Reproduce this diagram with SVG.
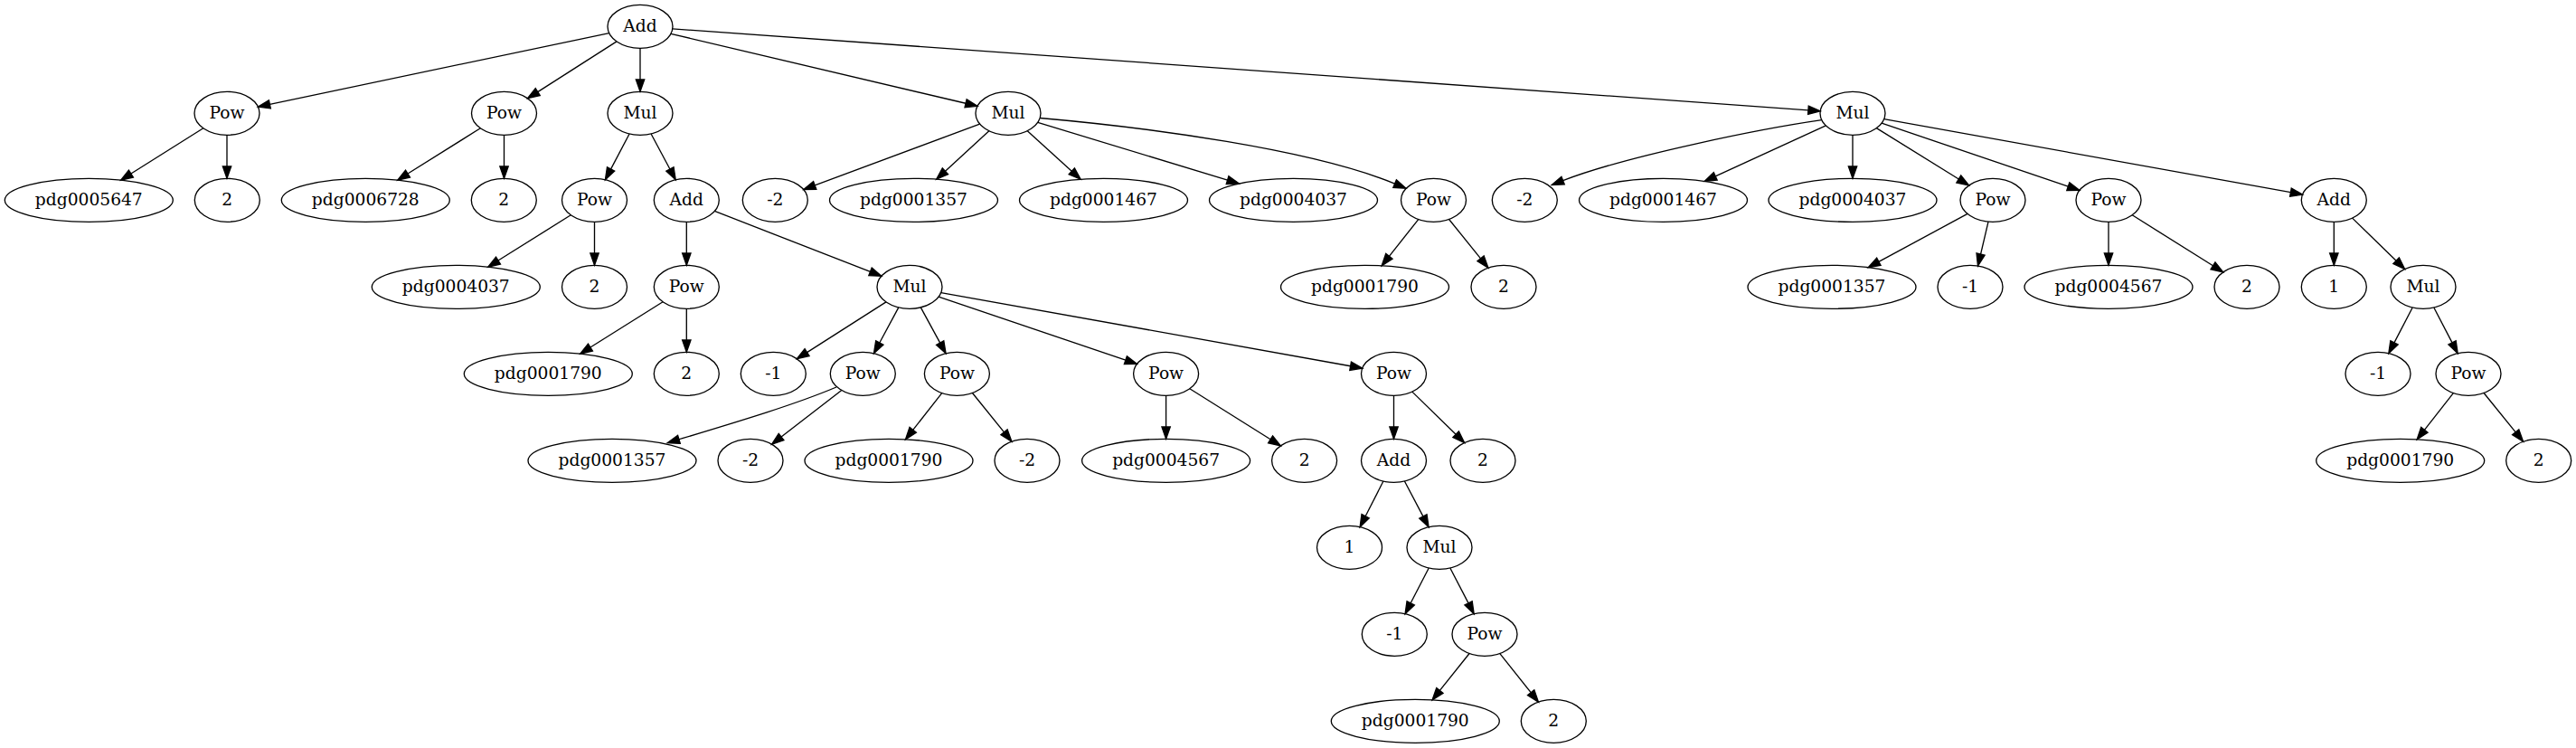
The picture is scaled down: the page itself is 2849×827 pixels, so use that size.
<svg xmlns="http://www.w3.org/2000/svg" width="2849" height="827" viewBox="0 0 2849 827">
<style>
.n ellipse{fill:none;stroke:#000;stroke-width:1.33}
.n text{font-family:"DejaVu Serif","Liberation Serif",serif;font-size:18.67px;text-anchor:middle;fill:#000}
#edges path{fill:none;stroke:#000;stroke-width:1.33;marker-end:url(#ah)}
</style>
<defs>
<marker id="ah" markerUnits="userSpaceOnUse" markerWidth="16" markerHeight="12" refX="0" refY="4.67" orient="auto" overflow="visible">
<path d="M0,0 L13.33,4.67 L0,9.33 Z" fill="#000" stroke="#000" stroke-width="1.33"/>
</marker>
</defs>
<rect width="2849" height="827" fill="#fff"/>
<g id="edges">
<path d="M673.67,36.54 L298.38,115.38"/>
<path d="M681.99,45.92 L594.75,101.57"/>
<path d="M708,53.33 L708,88"/>
<path d="M741.94,37.33 L1068.09,114.27"/>
<path d="M743.79,31.89 L1999.91,121.82"/>
<path d="M224.81,141.8 L144.91,192.04"/>
<path d="M251,149.33 L251,184"/>
<path d="M531.27,141.77 L451.01,192.06"/>
<path d="M557.5,149.33 L557.5,184"/>
<path d="M696.09,147.98 L675.62,186.88"/>
<path d="M720.08,147.94 L740.94,186.96"/>
<path d="M1083.57,137.04 L901.22,204.97"/>
<path d="M1093.86,144.75 L1045.47,189.2"/>
<path d="M1136.28,144.69 L1185.27,189.27"/>
<path d="M1147.75,135.29 L1357.6,199.15"/>
<path d="M1150.2,130.5 C1270,141 1450,165 1542.6,203.1"/>
<path d="M2014.8,132.7 C1950,142 1800,172 1728.6,199.6"/>
<path d="M2019.33,138.92 L1897.26,194.87"/>
<path d="M2049,149.33 L2049,184"/>
<path d="M2075.37,141.67 L2166.3,197.97"/>
<path d="M2081.08,136.21 L2287.3,206.17"/>
<path d="M2083.75,131.6 L2533.43,212.69"/>
<path d="M631.27,237.77 L551.01,288.06"/>
<path d="M657.5,245.33 L657.5,280"/>
<path d="M759.3,245.33 L759.3,280"/>
<path d="M790.39,233.43 L962.49,300.4"/>
<path d="M1568.7,242.56 L1536.39,283.37"/>
<path d="M1602.56,242.46 L1637.57,285.83"/>
<path d="M2176.01,236.42 L2077.87,289.35"/>
<path d="M2199,245.2 L2190.56,281.03"/>
<path d="M2332,245.33 L2332,280"/>
<path d="M2358.22,237.78 L2447.49,293.8"/>
<path d="M2581.3,245.33 L2581.3,280"/>
<path d="M2601.65,241.13 L2650.09,288.24"/>
<path d="M733.08,333.78 L652.96,384.05"/>
<path d="M759.3,341.33 L759.3,376"/>
<path d="M979.97,333.91 L892.57,389.59"/>
<path d="M993.84,339.92 L972.78,379"/>
<path d="M1018.31,339.88 L1039.7,379.08"/>
<path d="M1038.1,328.2 L1244.87,398.19"/>
<path d="M1040.76,323.56 L1493.62,404.75"/>
<path d="M2668.19,340 L2647.97,378.84"/>
<path d="M2691.81,340 L2712.03,378.84"/>
<path d="M925,428 C880,447 820,465 750.95,485.8"/>
<path d="M930.78,431.5 L864.07,483.01"/>
<path d="M1041.7,434.59 L1009.7,475.33"/>
<path d="M1075.48,434.46 L1110.54,477.83"/>
<path d="M1289.6,437.33 L1289.6,472"/>
<path d="M1315.82,429.78 L1405.09,485.8"/>
<path d="M1541.5,437.33 L1541.5,472"/>
<path d="M1561.82,433.14 L1610.13,480.22"/>
<path d="M2713.32,434.59 L2681.37,475.32"/>
<path d="M2747.1,434.46 L2782.21,477.84"/>
<path d="M1529.9,532.05 L1510.16,570.74"/>
<path d="M1553.41,531.98 L1573.88,570.88"/>
<path d="M1580.25,628.02 L1560.18,666.8"/>
<path d="M1603.81,628 L1624.03,666.84"/>
<path d="M1625.08,722.51 L1592.4,763.41"/>
<path d="M1658.86,722.54 L1693.15,765.69"/>
</g>
<g id="n0" class="n"><ellipse cx="708" cy="29.33" rx="36" ry="24"/><text x="708" y="34.63">Add</text></g>
<g id="n1" class="n"><ellipse cx="251" cy="125.33" rx="36" ry="24"/><text x="251" y="130.63">Pow</text></g>
<g id="n2" class="n"><ellipse cx="557.5" cy="125.33" rx="36" ry="24"/><text x="557.5" y="130.63">Pow</text></g>
<g id="n3" class="n"><ellipse cx="708" cy="125.33" rx="36" ry="24"/><text x="708" y="130.63">Mul</text></g>
<g id="n4" class="n"><ellipse cx="1115" cy="125.33" rx="36" ry="24"/><text x="1115" y="130.63">Mul</text></g>
<g id="n5" class="n"><ellipse cx="2049" cy="125.33" rx="36" ry="24"/><text x="2049" y="130.63">Mul</text></g>
<g id="n6" class="n"><ellipse cx="98.3" cy="221.33" rx="93" ry="24"/><text x="98.3" y="226.63">pdg0005647</text></g>
<g id="n7" class="n"><ellipse cx="251.3" cy="221.33" rx="36" ry="24"/><text x="251.3" y="226.63">2</text></g>
<g id="n8" class="n"><ellipse cx="404.3" cy="221.33" rx="93" ry="24"/><text x="404.3" y="226.63">pdg0006728</text></g>
<g id="n9" class="n"><ellipse cx="557.3" cy="221.33" rx="36" ry="24"/><text x="557.3" y="226.63">2</text></g>
<g id="n10" class="n"><ellipse cx="657.5" cy="221.33" rx="36" ry="24"/><text x="657.5" y="226.63">Pow</text></g>
<g id="n11" class="n"><ellipse cx="759.3" cy="221.33" rx="36" ry="24"/><text x="759.3" y="226.63">Add</text></g>
<g id="n12" class="n"><ellipse cx="857.3" cy="221.33" rx="36" ry="24"/><text x="857.3" y="226.63">-2</text></g>
<g id="n13" class="n"><ellipse cx="1010.5" cy="221.33" rx="93" ry="24"/><text x="1010.5" y="226.63">pdg0001357</text></g>
<g id="n14" class="n"><ellipse cx="1220.5" cy="221.33" rx="93" ry="24"/><text x="1220.5" y="226.63">pdg0001467</text></g>
<g id="n15" class="n"><ellipse cx="1430.5" cy="221.33" rx="93" ry="24"/><text x="1430.5" y="226.63">pdg0004037</text></g>
<g id="n16" class="n"><ellipse cx="1585.5" cy="221.33" rx="36" ry="24"/><text x="1585.5" y="226.63">Pow</text></g>
<g id="n17" class="n"><ellipse cx="1686.3" cy="221.33" rx="36" ry="24"/><text x="1686.3" y="226.63">-2</text></g>
<g id="n18" class="n"><ellipse cx="1839.5" cy="221.33" rx="93" ry="24"/><text x="1839.5" y="226.63">pdg0001467</text></g>
<g id="n19" class="n"><ellipse cx="2049" cy="221.33" rx="93" ry="24"/><text x="2049" y="226.63">pdg0004037</text></g>
<g id="n20" class="n"><ellipse cx="2204" cy="221.33" rx="36" ry="24"/><text x="2204" y="226.63">Pow</text></g>
<g id="n21" class="n"><ellipse cx="2332" cy="221.33" rx="36" ry="24"/><text x="2332" y="226.63">Pow</text></g>
<g id="n22" class="n"><ellipse cx="2581.3" cy="221.33" rx="36" ry="24"/><text x="2581.3" y="226.63">Add</text></g>
<g id="n23" class="n"><ellipse cx="504.3" cy="317.33" rx="93" ry="24"/><text x="504.3" y="322.63">pdg0004037</text></g>
<g id="n24" class="n"><ellipse cx="657.5" cy="317.33" rx="36" ry="24"/><text x="657.5" y="322.63">2</text></g>
<g id="n25" class="n"><ellipse cx="759.3" cy="317.33" rx="36" ry="24"/><text x="759.3" y="322.63">Pow</text></g>
<g id="n26" class="n"><ellipse cx="1006" cy="317.33" rx="36" ry="24"/><text x="1006" y="322.63">Mul</text></g>
<g id="n27" class="n"><ellipse cx="1509.5" cy="317.33" rx="93" ry="24"/><text x="1509.5" y="322.63">pdg0001790</text></g>
<g id="n28" class="n"><ellipse cx="1663" cy="317.33" rx="36" ry="24"/><text x="1663" y="322.63">2</text></g>
<g id="n29" class="n"><ellipse cx="2026" cy="317.33" rx="93" ry="24"/><text x="2026" y="322.63">pdg0001357</text></g>
<g id="n30" class="n"><ellipse cx="2179" cy="317.33" rx="36" ry="24"/><text x="2179" y="322.63">-1</text></g>
<g id="n31" class="n"><ellipse cx="2332" cy="317.33" rx="93" ry="24"/><text x="2332" y="322.63">pdg0004567</text></g>
<g id="n32" class="n"><ellipse cx="2485" cy="317.33" rx="36" ry="24"/><text x="2485" y="322.63">2</text></g>
<g id="n33" class="n"><ellipse cx="2581.3" cy="317.33" rx="36" ry="24"/><text x="2581.3" y="322.63">1</text></g>
<g id="n34" class="n"><ellipse cx="2680" cy="317.33" rx="36" ry="24"/><text x="2680" y="322.63">Mul</text></g>
<g id="n35" class="n"><ellipse cx="606.3" cy="413.33" rx="93" ry="24"/><text x="606.3" y="418.63">pdg0001790</text></g>
<g id="n36" class="n"><ellipse cx="759.3" cy="413.33" rx="36" ry="24"/><text x="759.3" y="418.63">2</text></g>
<g id="n37" class="n"><ellipse cx="855.3" cy="413.33" rx="36" ry="24"/><text x="855.3" y="418.63">-1</text></g>
<g id="n38" class="n"><ellipse cx="954.3" cy="413.33" rx="36" ry="24"/><text x="954.3" y="418.63">Pow</text></g>
<g id="n39" class="n"><ellipse cx="1058.4" cy="413.33" rx="36" ry="24"/><text x="1058.4" y="418.63">Pow</text></g>
<g id="n40" class="n"><ellipse cx="1289.6" cy="413.33" rx="36" ry="24"/><text x="1289.6" y="418.63">Pow</text></g>
<g id="n41" class="n"><ellipse cx="1541.5" cy="413.33" rx="36" ry="24"/><text x="1541.5" y="418.63">Pow</text></g>
<g id="n42" class="n"><ellipse cx="2630" cy="413.33" rx="36" ry="24"/><text x="2630" y="418.63">-1</text></g>
<g id="n43" class="n"><ellipse cx="2730" cy="413.33" rx="36" ry="24"/><text x="2730" y="418.63">Pow</text></g>
<g id="n44" class="n"><ellipse cx="677" cy="509.33" rx="93" ry="24"/><text x="677" y="514.63">pdg0001357</text></g>
<g id="n45" class="n"><ellipse cx="830" cy="509.33" rx="36" ry="24"/><text x="830" y="514.63">-2</text></g>
<g id="n46" class="n"><ellipse cx="983" cy="509.33" rx="93" ry="24"/><text x="983" y="514.63">pdg0001790</text></g>
<g id="n47" class="n"><ellipse cx="1136" cy="509.33" rx="36" ry="24"/><text x="1136" y="514.63">-2</text></g>
<g id="n48" class="n"><ellipse cx="1289.6" cy="509.33" rx="93" ry="24"/><text x="1289.6" y="514.63">pdg0004567</text></g>
<g id="n49" class="n"><ellipse cx="1442.6" cy="509.33" rx="36" ry="24"/><text x="1442.6" y="514.63">2</text></g>
<g id="n50" class="n"><ellipse cx="1541.5" cy="509.33" rx="36" ry="24"/><text x="1541.5" y="514.63">Add</text></g>
<g id="n51" class="n"><ellipse cx="1640" cy="509.33" rx="36" ry="24"/><text x="1640" y="514.63">2</text></g>
<g id="n52" class="n"><ellipse cx="2654.7" cy="509.33" rx="93" ry="24"/><text x="2654.7" y="514.63">pdg0001790</text></g>
<g id="n53" class="n"><ellipse cx="2807.7" cy="509.33" rx="36" ry="24"/><text x="2807.7" y="514.63">2</text></g>
<g id="n54" class="n"><ellipse cx="1492.5" cy="605.33" rx="36" ry="24"/><text x="1492.5" y="610.63">1</text></g>
<g id="n55" class="n"><ellipse cx="1592" cy="605.33" rx="36" ry="24"/><text x="1592" y="610.63">Mul</text></g>
<g id="n56" class="n"><ellipse cx="1542.3" cy="701.33" rx="36" ry="24"/><text x="1542.3" y="706.63">-1</text></g>
<g id="n57" class="n"><ellipse cx="1642" cy="701.33" rx="36" ry="24"/><text x="1642" y="706.63">Pow</text></g>
<g id="n58" class="n"><ellipse cx="1565.3" cy="797.33" rx="93" ry="24"/><text x="1565.3" y="802.63">pdg0001790</text></g>
<g id="n59" class="n"><ellipse cx="1718.3" cy="797.33" rx="36" ry="24"/><text x="1718.3" y="802.63">2</text></g>
</svg>
